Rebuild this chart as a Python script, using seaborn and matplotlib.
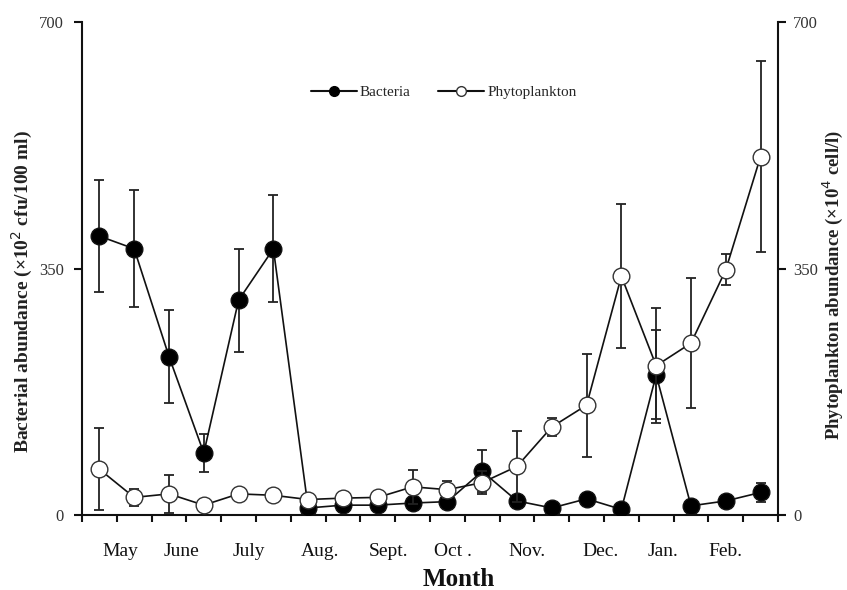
import numpy as np
import pandas as pd
import matplotlib
matplotlib.use("Agg")
import matplotlib.pyplot as plt
from matplotlib.lines import Line2D
import seaborn as sns

# ---- data ----
months = ["May", "June", "July", "Aug.", "Sept.", "Oct .", "Nov.", "Dec.", "Jan.", "Feb."]
bacteria = [396, 378, 225, 88, 305, 378, 10, 14, 14, 17, 19, 62, 20, 10, 23, 8, 199, 13, 20, 32]
bacteria_err = [79, 83, 66, 27, 73, 76, 0, 0, 0, 0, 0, 30, 0, 0, 0, 0, 63, 0, 0, 14]
phyto = [65, 25, 30, 14, 30, 28, 22, 24, 25, 40, 36, 46, 69, 125, 156, 339, 212, 244, 348, 509]
phyto_err = [58, 12, 27, 0, 0, 0, 0, 0, 0, 24, 12, 16, 50, 13, 73, 102, 82, 92, 22, 135]

sns.set_theme(style="white")
plt.rcParams['font.family'] = ['Liberation Serif', 'DejaVu Serif']

idx = np.arange(len(bacteria))
df = pd.DataFrame({"idx": idx, "Bacteria": bacteria, "Phytoplankton": phyto})

fig = plt.figure(figsize=(8.47, 5.90), dpi=100)
ax = fig.add_axes([0.0968, 0.1271, 0.8217, 0.8356])
ax2 = ax.twinx()

ax.errorbar(idx, bacteria, yerr=bacteria_err, fmt='none', ecolor='#222222',
            elinewidth=1.3, capsize=3.5, capthick=1.3, zorder=2)
sns.lineplot(data=df, x="idx", y="Bacteria", ax=ax, color='#111111', lw=1.2,
             marker='o', markersize=12, markerfacecolor='black',
             markeredgecolor='#111111', markeredgewidth=1.0, zorder=3)

ax2.errorbar(idx, phyto, yerr=phyto_err, fmt='none', ecolor='#222222',
             elinewidth=1.3, capsize=3.5, capthick=1.3, zorder=2)
sns.lineplot(data=df, x="idx", y="Phytoplankton", ax=ax2, color='#111111', lw=1.2,
             marker='o', markersize=12, markerfacecolor='white',
             markeredgecolor='#333333', markeredgewidth=1.0, zorder=3)

for a in (ax, ax2):
    a.set_xlim(-0.5, len(idx) - 0.5)
    a.set_ylim(0, 700)
    a.set_yticks([0, 350, 700])
    a.set_xlabel("")
    a.set_ylabel("")
    a.spines['top'].set_visible(False)
    for s in a.spines.values():
        s.set_linewidth(1.5)
        s.set_color('#111111')

ax.spines['right'].set_visible(False)
ax2.spines['left'].set_visible(False)
ax2.spines['bottom'].set_visible(False)

ax.tick_params(axis='y', direction='out', length=6, width=1.5, color='#111111',
               labelsize=12, labelcolor='#333333', pad=7, left=True)
ax2.tick_params(axis='y', direction='out', length=6, width=1.5, color='#111111',
                labelsize=12, labelcolor='#333333', pad=5, right=True)

# bottom: tick marks at slot boundaries, month labels as text
ax.set_xticks(np.arange(-0.5, len(idx), 1.0))
ax.set_xticklabels([])
ax.tick_params(axis='x', direction='out', length=5, width=1.5, color='#111111', bottom=True)
month_pos = [0.6, 2.35, 4.3, 6.35, 8.3, 10.15, 12.3, 14.4, 16.2, 18.0]
for m, p in zip(months, month_pos):
    ax.text(p, -0.073, m, transform=ax.get_xaxis_transform(), ha='center', va='center',
            fontsize=14, color='#111111')
ax.text(0.541, -0.13, "Month", transform=ax.transAxes, ha='center', va='center',
        fontsize=18, fontweight='bold', color='#111111')

fig.text(22 / 847, 1 - 292 / 590, "Bacterial abundance (×10$^{2}$ cfu/100 ml)",
         rotation=90, ha='center', va='center', fontsize=14, fontweight='bold',
         color='#222222')
fig.text(833 / 847, 1 - 285 / 590, "Phytoplankton abundance (×10$^{4}$ cell/l)",
         rotation=90, ha='center', va='center', fontsize=13.5, fontweight='bold',
         color='#222222')

hb = Line2D([], [], color='#111111', lw=1.5, marker='o', markersize=7,
            markerfacecolor='black', markeredgecolor='black')
hp = Line2D([], [], color='#111111', lw=1.5, marker='o', markersize=7,
            markerfacecolor='white', markeredgecolor='#333333')
ax2.legend([hb, hp], ["Bacteria", "Phytoplankton"], loc='center',
           bbox_to_anchor=(0.52, 0.858), ncol=2, frameon=False, fontsize=11,
           handlelength=3.0, columnspacing=1.8, handletextpad=0.2)

fig.savefig("out.png", dpi=100)
